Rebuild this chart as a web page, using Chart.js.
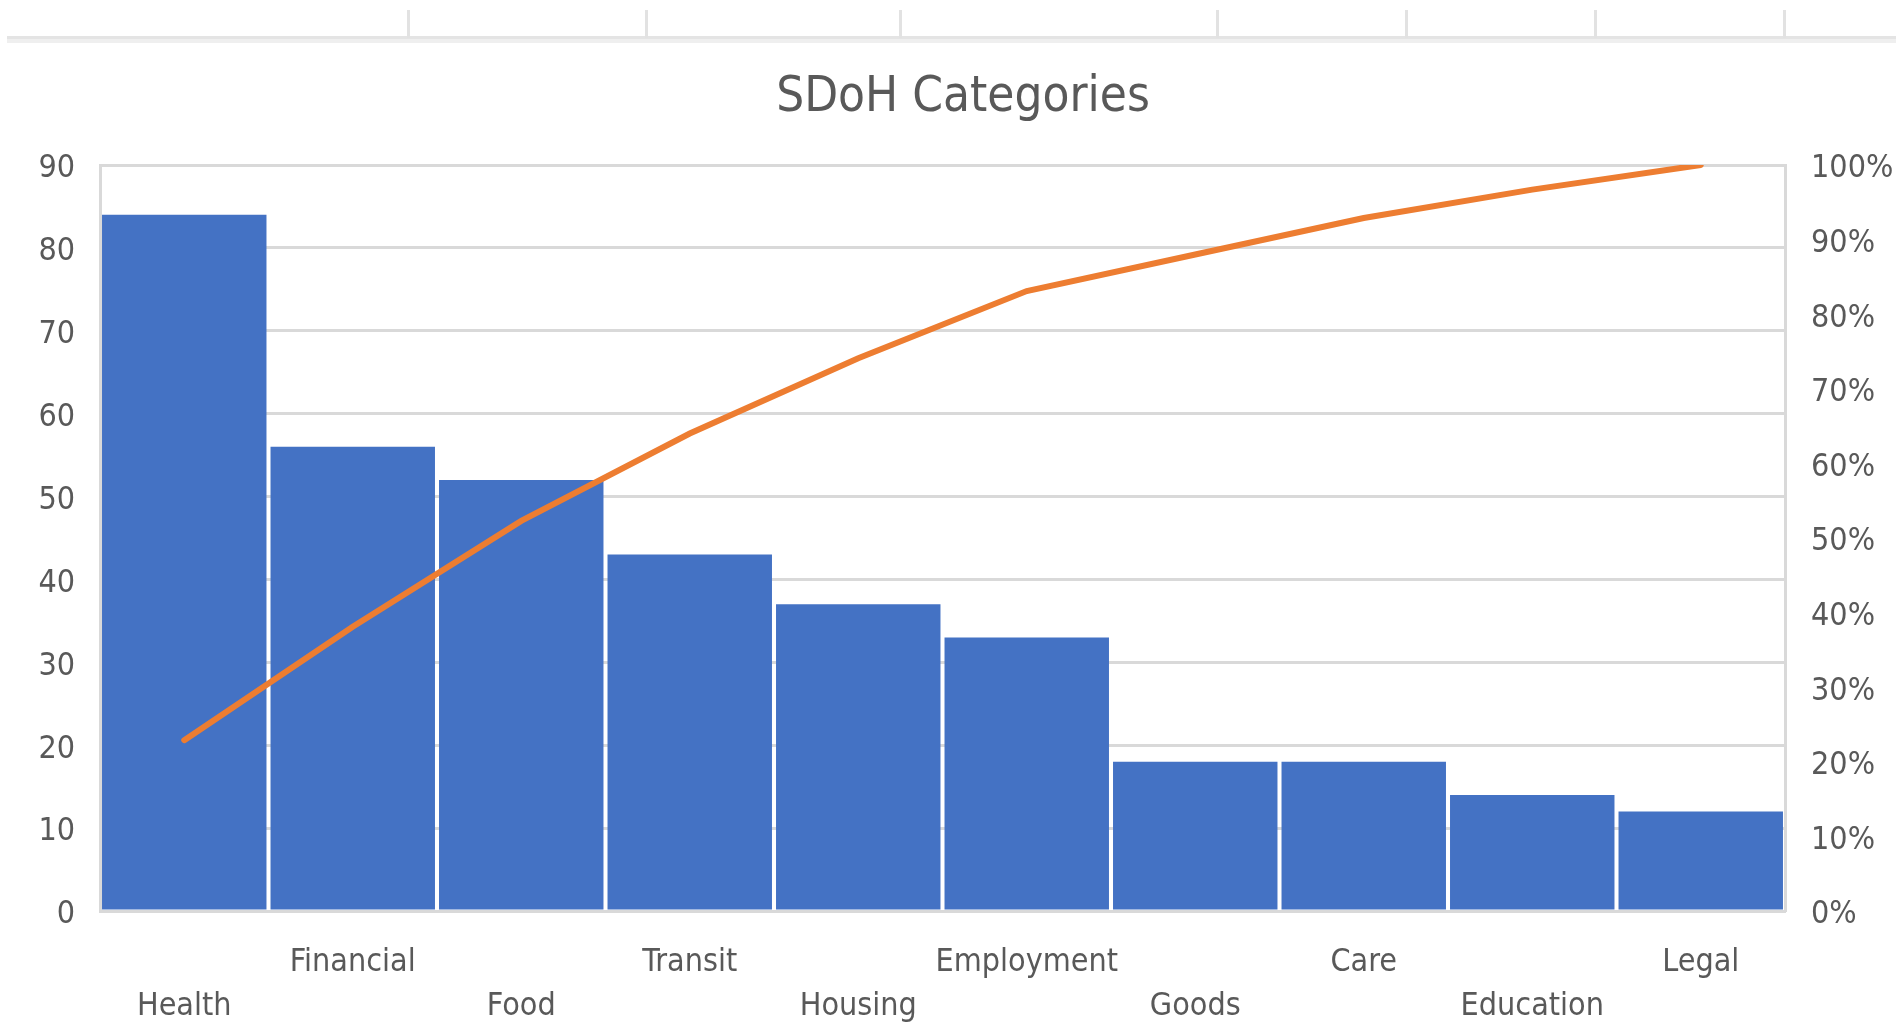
<!DOCTYPE html>
<html>
<head>
<meta charset="utf-8">
<script src="https://cdn.jsdelivr.net/npm/chart.js@4.4.1/dist/chart.umd.min.js"></script>
<style>
  html, body { margin: 0; padding: 0; background: #ffffff; }
  #wrap { position: relative; width: 1900px; height: 1030px; overflow: hidden; }
  #c { position: absolute; left: 0; top: 0; }
  .hl { position: absolute; left: 7px; width: 1889px; }
  .vl { position: absolute; top: 10px; width: 3px; height: 28px; background: #e2e2e2; }
</style>
</head>
<body>
<div id="wrap">
  <canvas id="c" width="1900" height="1030"></canvas>
  <div class="hl" style="top:36px;height:3px;background:#e4e4e4"></div>
  <div class="hl" style="top:39px;height:4px;background:#efefef"></div>
  <div class="vl" style="left:407px"></div>
  <div class="vl" style="left:645px"></div>
  <div class="vl" style="left:899px"></div>
  <div class="vl" style="left:1216px"></div>
  <div class="vl" style="left:1405px"></div>
  <div class="vl" style="left:1594px"></div>
  <div class="vl" style="left:1783px"></div>
</div>
<script>
const categories = ["Health", "Financial", "Food", "Transit", "Housing", "Employment", "Goods", "Care", "Education", "Legal"];
const counts = [84, 56, 52, 43, 37, 33, 18, 18, 14, 12];
const cumulativePct = [22.9, 38.1, 52.3, 64.0, 74.1, 83.1, 88.0, 92.9, 96.7, 100];
const leftTicks = [0, 10, 20, 30, 40, 50, 60, 70, 80, 90];
const rightTicks = [0, 10, 20, 30, 40, 50, 60, 70, 80, 90, 100];

const FONT = '"Liberation Sans Narrow", "DejaVu Sans Condensed", "Liberation Sans", sans-serif';
const TXT = '#595959';
const GRID = '#d9d9d9';

new Chart(document.getElementById('c'), {
  data: {
    labels: categories,
    datasets: [
      {
        type: 'line',
        data: cumulativePct,
        yAxisID: 'y1',
        borderColor: '#ED7D31',
        borderWidth: 6,
        pointRadius: 0,
        tension: 0,
        borderCapStyle: 'round',
        order: 0
      },
      {
        type: 'bar',
        data: counts,
        yAxisID: 'y',
        backgroundColor: '#4472C4',
        borderWidth: 0,
        categoryPercentage: 1.0,
        barPercentage: 0.976,
        order: 1
      }
    ]
  },
  options: {
    responsive: false,
    animation: false,
    devicePixelRatio: 1,
    layout: { padding: { left: 26, right: 0, top: 0, bottom: 0 } },
    plugins: {
      legend: { display: false },
      tooltip: { enabled: false },
      title: {
        display: true,
        text: 'SDoH Categories',
        color: TXT,
        font: { family: FONT, size: 49, weight: 'normal', lineHeight: 1.0 },
        padding: { top: 74, bottom: 42 }
      }
    },
    scales: {
      x: {
        grid: { display: false, drawTicks: false },
        border: { display: true, color: GRID, width: 3 },
        ticks: {
          autoSkip: false,
          maxRotation: 0,
          minRotation: 0,
          color: TXT,
          padding: 30,
          font: { family: FONT, size: 32, lineHeight: 1.375 },
          callback: function (v, i) {
            const name = categories[i];
            return i % 2 === 0 ? ['', name] : [name, ''];
          }
        },
        afterFit: function (s) { s.height = 119; }
      },
      y: {
        position: 'left',
        min: 0,
        max: 90,
        grid: { color: GRID, lineWidth: 3, drawTicks: false },
        border: { display: true, color: GRID, width: 3 },
        afterBuildTicks: function (s) { s.ticks = leftTicks.map(v => ({ value: v })); },
        ticks: {
          color: TXT,
          padding: 25,
          labelOffset: 4,
          font: { family: FONT, size: 32 }
        },
        afterFit: function (s) { s.width = 74; }
      },
      y1: {
        position: 'right',
        min: 0,
        max: 100,
        grid: { display: false, drawTicks: false },
        border: { display: true, color: GRID, width: 3 },
        afterBuildTicks: function (s) { s.ticks = rightTicks.map(v => ({ value: v })); },
        ticks: {
          color: TXT,
          padding: 26,
          labelOffset: 4,
          font: { family: FONT, size: 32 },
          callback: function (v) { return v + '%'; }
        },
        afterFit: function (s) { s.width = 115; }
      }
    }
  }
});
</script>
</body>
</html>
